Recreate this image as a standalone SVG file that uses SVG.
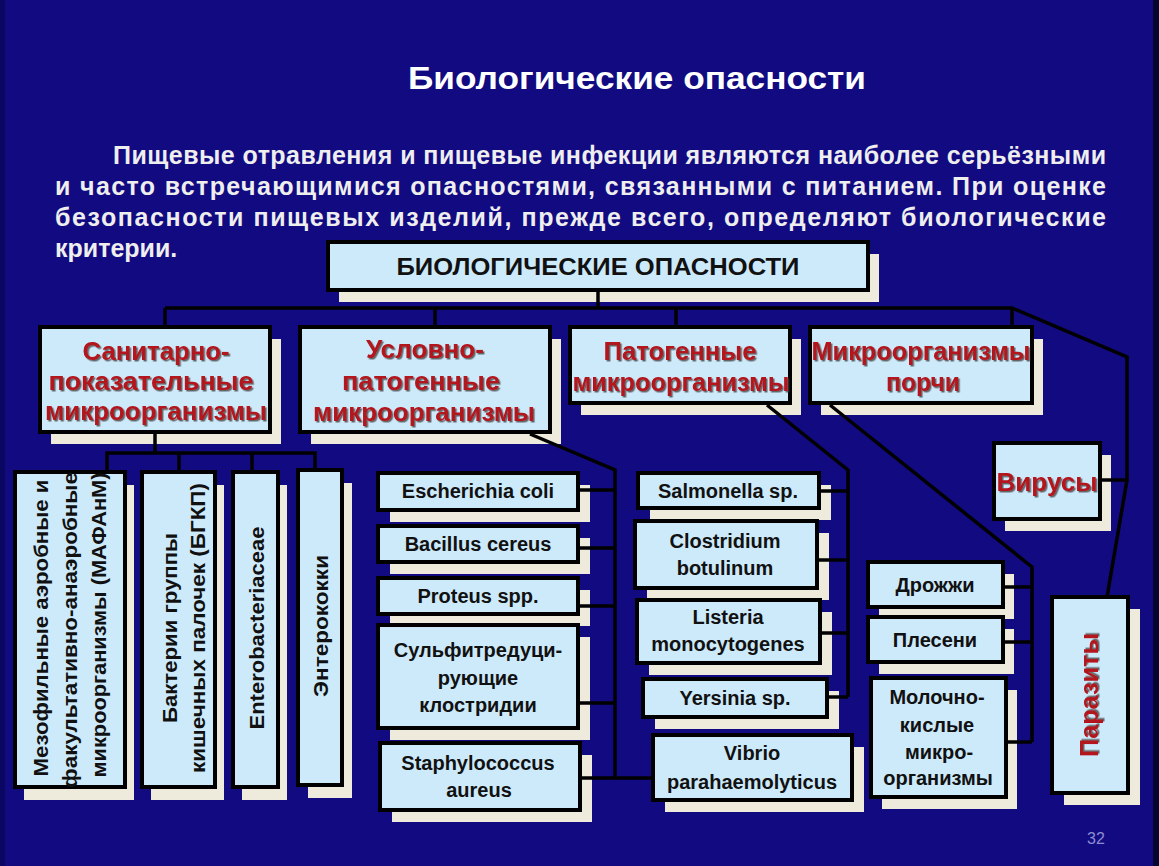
<svg xmlns="http://www.w3.org/2000/svg" width="1159" height="866" viewBox="0 0 1159 866">
<defs>
<style>
.sh{fill:#eeeadc}
.bx{fill:#cdeafb;stroke:#000;stroke-width:4}
.t{font-family:"Liberation Sans",Arial,sans-serif;font-weight:bold;font-size:20px;fill:#111;text-anchor:middle}
.r{fill:#b3121a;font-size:25px;filter:url(#ds)}
.c{fill:none;stroke:#000;stroke-width:3.5;stroke-linejoin:miter}
.p{font-family:"Liberation Sans",Arial,sans-serif;font-weight:bold;font-size:25px;fill:#eeeeee}
</style>
<filter id="ds" x="-10%" y="-30%" width="120%" height="160%">
<feDropShadow dx="1.5" dy="1.5" stdDeviation="0.6" flood-color="#444" flood-opacity="0.8"/>
</filter>
</defs>
<rect x="0" y="0" width="1159" height="866" fill="#120a80"/>
<rect x="0" y="0" width="5" height="866" fill="#0a0762"/>
<rect x="1153" y="0" width="6" height="866" fill="#06052e"/>

<g id="title">
<text class="p" x="408" y="89" textLength="458" lengthAdjust="spacingAndGlyphs" style="font-size:32px;fill:#fff">Биологические опасности</text>
</g>
<g id="paragraph" class="p">
<text x="113" y="164" textLength="993" lengthAdjust="spacing">Пищевые отравления и пищевые инфекции являются наиболее серьёзными</text>
<text x="55" y="195" textLength="1051" lengthAdjust="spacing">и часто встречающимися опасностями, связанными с питанием. При оценке</text>
<text x="55" y="226" textLength="1051" lengthAdjust="spacing">безопасности пищевых изделий, прежде всего, определяют биологические</text>
<text x="55" y="257">критерии.</text>
</g>

<g id="n-root"><rect class="sh" x="339" y="254" width="540" height="48"/><rect class="bx" x="328" y="242" width="540" height="48"/>
<text class="t" x="598" y="275" textLength="403" lengthAdjust="spacingAndGlyphs" style="font-size:23px">БИОЛОГИЧЕСКИЕ ОПАСНОСТИ</text></g>

<g id="n-san"><rect class="sh" x="51" y="339" width="230" height="105"/><rect class="bx" x="40" y="327" width="230" height="105"/>
<text class="t r" x="156" y="360" textLength="147" lengthAdjust="spacingAndGlyphs">Санитарно-</text>
<text class="t r" x="151" y="390" textLength="205" lengthAdjust="spacingAndGlyphs">показательные</text>
<text class="t r" x="156" y="420" textLength="222" lengthAdjust="spacingAndGlyphs">микроорганизмы</text></g>

<g id="n-usl"><rect class="sh" x="311" y="339" width="250" height="105"/><rect class="bx" x="300" y="327" width="250" height="105"/>
<text class="t r" x="425" y="358" textLength="118" lengthAdjust="spacingAndGlyphs">Условно-</text>
<text class="t r" x="421" y="390" textLength="158" lengthAdjust="spacingAndGlyphs">патогенные</text>
<text class="t r" x="424" y="421" textLength="222" lengthAdjust="spacingAndGlyphs">микроорганизмы</text></g>

<g id="n-pat"><rect class="sh" x="581" y="339" width="220" height="76"/><rect class="bx" x="570" y="327" width="220" height="76"/>
<text class="t r" x="680" y="360" textLength="153" lengthAdjust="spacingAndGlyphs">Патогенные</text>
<text class="t r" x="681" y="391" textLength="217" lengthAdjust="spacingAndGlyphs">микроорганизмы</text></g>

<g id="n-por"><rect class="sh" x="821" y="339" width="222" height="76"/><rect class="bx" x="810" y="327" width="222" height="76"/>
<text class="t r" x="921" y="360" textLength="219" lengthAdjust="spacingAndGlyphs">Микроорганизмы</text>
<text class="t r" x="923" y="391" textLength="74" lengthAdjust="spacingAndGlyphs">порчи</text></g>

<g id="n-vir"><rect class="sh" x="1005" y="455" width="106" height="76"/><rect class="bx" x="994" y="443" width="106" height="76"/>
<text class="t r" x="1047" y="491" textLength="101" lengthAdjust="spacingAndGlyphs">Вирусы</text></g>

<g id="n-maf"><rect class="sh" x="24" y="485" width="110" height="315"/><rect class="bx" x="15" y="472" width="110" height="315"/>
<g transform="translate(48,628) rotate(-90)"><text class="t" x="0" y="0" textLength="297" lengthAdjust="spacingAndGlyphs">Мезофильные аэробные и</text></g>
<g transform="translate(77,630) rotate(-90)"><text class="t" x="0" y="0" textLength="316" lengthAdjust="spacingAndGlyphs">факультативно-анаэробные</text></g>
<g transform="translate(106,625) rotate(-90)"><text class="t" x="0" y="0" textLength="305" lengthAdjust="spacingAndGlyphs">микроорганизмы (МАФАнМ)</text></g></g>

<g id="n-bgkp"><rect class="sh" x="151" y="485" width="73" height="315"/><rect class="bx" x="142" y="472" width="73" height="315"/>
<g transform="translate(177,628) rotate(-90)"><text class="t" x="0" y="0" textLength="190" lengthAdjust="spacingAndGlyphs">Бактерии группы</text></g>
<g transform="translate(205,628) rotate(-90)"><text class="t" x="0" y="0" textLength="290" lengthAdjust="spacingAndGlyphs">кишечных палочек (БГКП)</text></g></g>

<g id="n-ent"><rect class="sh" x="242" y="485" width="45" height="315"/><rect class="bx" x="233" y="472" width="45" height="315"/>
<g transform="translate(264,628) rotate(-90)"><text class="t" x="0" y="0" textLength="203" lengthAdjust="spacingAndGlyphs">Enterobacteriaceae</text></g></g>

<g id="n-ento"><rect class="sh" x="308" y="483" width="44" height="315"/><rect class="bx" x="298" y="470" width="44" height="315"/>
<g transform="translate(328,626) rotate(-90)"><text class="t" x="0" y="0" textLength="142" lengthAdjust="spacingAndGlyphs">Энтерококки</text></g></g>

<g id="n-eco"><rect class="sh" x="390" y="485" width="200" height="37"/><rect class="bx" x="378" y="473" width="200" height="37"/>
<text class="t" x="478" y="498">Escherichia coli</text></g>
<g id="n-bac"><rect class="sh" x="390" y="538" width="200" height="36"/><rect class="bx" x="378" y="526" width="200" height="36"/>
<text class="t" x="478" y="551">Bacillus cereus</text></g>
<g id="n-pro"><rect class="sh" x="390" y="590" width="200" height="36"/><rect class="bx" x="378" y="578" width="200" height="36"/>
<text class="t" x="478" y="603">Proteus spp.</text></g>
<g id="n-sulf"><rect class="sh" x="390" y="637" width="200" height="103"/><rect class="bx" x="378" y="625" width="200" height="103"/>
<text class="t" x="478" y="657">Сульфитредуци-</text><text class="t" x="478" y="685">рующие</text><text class="t" x="478" y="712">клостридии</text></g>
<g id="n-sta"><rect class="sh" x="392" y="755" width="200" height="67"/><rect class="bx" x="380" y="743" width="200" height="67"/>
<text class="t" x="478" y="770">Staphylococcus</text><text class="t" x="479" y="797">aureus</text></g>

<g id="n-sal"><rect class="sh" x="650" y="485" width="181" height="35"/><rect class="bx" x="638" y="473" width="181" height="35"/>
<text class="t" x="728" y="498">Salmonella sp.</text></g>
<g id="n-clo"><rect class="sh" x="647" y="533" width="182" height="67"/><rect class="bx" x="635" y="521" width="182" height="67"/>
<text class="t" x="725" y="548">Clostridium</text><text class="t" x="725" y="575">botulinum</text></g>
<g id="n-lis"><rect class="sh" x="649" y="612" width="183" height="63"/><rect class="bx" x="637" y="600" width="183" height="63"/>
<text class="t" x="728" y="624">Listeria</text><text class="t" x="728" y="651">monocytogenes</text></g>
<g id="n-yer"><rect class="sh" x="655" y="691" width="184" height="38"/><rect class="bx" x="643" y="679" width="184" height="38"/>
<text class="t" x="735" y="705">Yersinia sp.</text></g>
<g id="n-vib"><rect class="sh" x="665" y="747" width="199" height="65"/><rect class="bx" x="653" y="735" width="199" height="65"/>
<text class="t" x="752" y="760">Vibrio</text><text class="t" x="752" y="789">parahaemolyticus</text></g>

<g id="n-dro"><rect class="sh" x="879" y="574" width="135" height="45"/><rect class="bx" x="868" y="562" width="135" height="45"/>
<text class="t" x="935" y="592">Дрожжи</text></g>
<g id="n-ple"><rect class="sh" x="879" y="629" width="135" height="45"/><rect class="bx" x="868" y="617" width="135" height="45"/>
<text class="t" x="935" y="647">Плесени</text></g>
<g id="n-mol"><rect class="sh" x="882" y="690" width="135" height="119"/><rect class="bx" x="871" y="678" width="135" height="119"/>
<text class="t" x="937" y="704">Молочно-</text><text class="t" x="937" y="732">кислые</text><text class="t" x="939" y="759">микро-</text><text class="t" x="938" y="785">организмы</text></g>

<g id="n-par"><rect class="sh" x="1064" y="609" width="76" height="196"/><rect class="bx" x="1052" y="597" width="76" height="196"/>
<g transform="translate(1098,695) rotate(-90)"><text class="t r" x="0" y="0" textLength="124" lengthAdjust="spacingAndGlyphs">Паразиты</text></g></g>

<g id="connectors" class="c">
<path d="M598 290 V308"/>
<path d="M165 308 H1012 L1127 357 V480 L1107 597"/>
<path d="M165 308 V327 M435 308 V327 M676 308 V327 M1012 308 V327"/>
<path d="M1100 480 H1127"/>
<path d="M155 432 V453 M107 472 V453 H315 V470 M179 453 V472 M252 453 V472"/>
<path d="M530 434 L615 470 V778 M578 490 H615 M578 548 H615 M578 606 H615 M578 703 H615 M580 778 H653"/>
<path d="M767 405 L848 470 V697 M819 491 H848 M817 560 H848 M820 633 H848 M827 697 H848"/>
<path d="M830 405 L1032 567 V742 M1003 587 H1032 M1003 642 H1032 M1006 742 H1032"/>
</g>

<text x="1096" y="844" font-family="'Liberation Sans',Arial,sans-serif" font-size="16" fill="#8c8ad2" text-anchor="middle">32</text>
</svg>
